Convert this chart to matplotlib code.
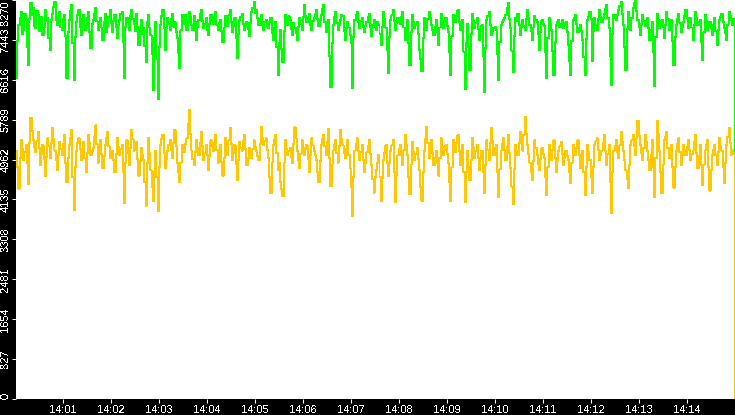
import matplotlib
matplotlib.use("Agg")
import matplotlib.pyplot as plt
import matplotlib.dates as mdates
import pandas as pd

plt.rcParams["font.family"] = ["Liberation Sans", "DejaVu Sans"]
plt.rcParams["text.antialiased"] = False

# one sample every 1.5 seconds from 14:00:01
start_time = "2024-01-01 14:00:01"
sample_step = "1500ms"

green_vals = [
    6650, 7420, 7750, 7900, 8020, 7560, 7650, 7980, 7850, 7300, 6920, 7880, 8210, 7960, 8100, 7740, 7690, 8040, 7960, 7620,
    7810, 7920, 7540, 7700, 8060, 7830, 7900, 7480, 7230, 7860, 7980, 8120, 8230, 7860, 7750, 7940, 8020, 7700, 7650, 7880,
    7960, 7520, 6650, 7600, 7850, 8040, 8170, 7380, 6610, 7500, 7810, 7960, 8060, 7720, 7540, 7880, 7960, 7640, 7750, 7890,
    8020, 7600, 7270, 7780, 7850, 7990, 8100, 7830, 7650, 7760, 7900, 7700, 7440, 7810, 7980, 7600, 7730, 7920, 8060, 7800,
    7600, 7840, 7960, 7700, 7480, 7760, 7850, 7990, 8020, 7400, 6650, 7720, 7900, 7810, 7650, 7930, 8060, 7880, 7770, 7620,
    7980, 7720, 7340, 7640, 7850, 7560, 7690, 7320, 6980, 7820, 7960, 7700, 7540, 7160, 6400, 7480, 7810, 7050, 6210, 7300,
    7750, 7930, 8060, 7680, 7230, 7690, 7900, 7780, 7650, 7870, 7980, 7720, 7810, 7600, 7480, 7180, 6860, 7640, 7960, 7780,
    7850, 7960, 7650, 7820, 8020, 7910, 7750, 7640, 7940, 7820, 7440, 7700, 7850, 7990, 8060, 7830, 7690, 7780, 7900, 7640,
    7540, 7770, 7960, 7850, 7770, 7910, 8020, 7760, 7650, 7800, 7850, 7620, 7400, 7700, 7940, 7830, 7730, 7950, 8060, 7820,
    7600, 7740, 7900, 7480, 7060, 7560, 7850, 7920, 7980, 7780, 7650, 7710, 7810, 7660, 7520, 7800, 8020, 8110, 8230, 8000,
    8060, 7900, 7750, 7880, 7960, 7760, 7650, 7820, 7850, 7740, 7690, 7820, 7900, 7580, 7440, 7700, 7810, 7300, 6710, 7380,
    7650, 7260, 6980, 7620, 7960, 7840, 7750, 7930, 7850, 7660, 7540, 7790, 7690, 7580, 7440, 7720, 7900, 7780, 7650, 7920,
    8170, 7940, 7810, 7900, 7980, 7760, 7650, 7830, 7900, 7990, 8060, 7870, 7730, 7850, 7960, 8080, 8170, 7820, 7600, 7760,
    7850, 7100, 6460, 7380, 7750, 7910, 8020, 7800, 7650, 7760, 7850, 7960, 7940, 7620, 7440, 7680, 7810, 7700, 7540, 7380,
    6440, 7500, 7850, 7960, 8020, 7820, 7690, 7840, 7900, 7710, 7600, 7740, 7810, 7920, 7980, 7700, 7520, 7760, 7850, 7700,
    7650, 7820, 7750, 7560, 7340, 7720, 8020, 7880, 7690, 7240, 6750, 7500, 7850, 7950, 8060, 7840, 7650, 7800, 7900, 7820,
    7770, 7910, 8020, 7700, 7440, 7680, 7850, 7380, 6920, 7600, 7960, 7820, 7690, 7760, 7810, 7560, 7230, 7040, 6790, 7480,
    7900, 7770, 7650, 7880, 8020, 7900, 7750, 7640, 7540, 7720, 7850, 7600, 7340, 7700, 7980, 7820, 7690, 7840, 7900, 7740,
    7600, 7200, 6710, 7520, 7960, 7880, 7810, 7940, 8060, 7820, 7650, 7760, 7850, 7200, 6420, 7380, 7770, 7300, 6820, 7560,
    7980, 7840, 7690, 7800, 7900, 7660, 7440, 7620, 7750, 7100, 6360, 7280, 7850, 7940, 8020, 7760, 7540, 7620, 7690, 7720,
    7650, 7160, 6610, 7400, 7750, 7820, 7850, 7900, 7960, 8100, 8210, 7880, 7690, 7220, 6770, 7520, 7900, 7840, 7980, 7760,
    7540, 7700, 7850, 7740, 7650, 7880, 8060, 7900, 7750, 7620, 7440, 7700, 7940, 7860, 7810, 7560, 7230, 7600, 7850, 7780,
    7730, 7200, 6650, 7480, 7900, 7780, 7650, 7220, 6710, 7400, 7750, 7820, 7850, 7700, 7770, 7860, 7690, 7760, 7810, 7600,
    7340, 7000, 6710, 7420, 7850, 7900, 7960, 7780, 7600, 7700, 7750, 7620, 7440, 7080, 6710, 7460, 7850, 7930, 8020, 7880,
    7000, 7620, 7900, 7760, 7650, 7880, 8060, 7920, 7810, 7900, 7980, 8080, 8170, 7900, 7690, 7100, 6500, 7560, 7960, 7900,
    7850, 7960, 8060, 8150, 8230, 7980, 7750, 7300, 6820, 7660, 8020, 7840, 7650, 7900, 8100, 8200, 8270, 8040, 7850, 7700,
    7540, 7780, 7960, 7840, 7730, 7820, 7900, 7680, 7440, 7640, 7810, 7200, 6480, 7500, 7980, 7860, 7690, 7760, 7850, 7700,
    7480, 7760, 8020, 7880, 7650, 7780, 7850, 7420, 6920, 7500, 7750, 7880, 7980, 7800, 7600, 7720, 7810, 7940, 8060, 7900,
    7690, 7820, 7900, 7700, 7440, 7760, 8020, 7900, 7750, 7820, 7850, 7400, 7020, 7600, 7960, 7840, 7650, 7720, 7810, 7680,
    7540, 7760, 7900, 7620, 7340, 7640, 7850, 7920, 7980, 7820, 7690, 7580, 7440, 7760, 8020, 7930, 7850, 7760, 7880, 2600,
]

yellow_vals = [
    5150, 4800, 4360, 5000, 5360, 5180, 4950, 5120, 5260, 4900, 4450, 5300, 5820, 5560, 5360, 5220, 5110, 5340, 5530, 5200,
    4840, 5080, 5260, 4980, 4630, 5020, 5400, 5240, 4990, 5300, 5610, 5380, 5150, 4960, 4740, 5060, 5320, 5180, 5050, 5280,
    5470, 4900, 4490, 5000, 5260, 5420, 5570, 4600, 3910, 4800, 5150, 5300, 5400, 5180, 4950, 5140, 5320, 5000, 4700, 5100,
    5470, 5300, 5050, 5140, 5200, 5440, 5670, 5280, 4900, 5100, 5360, 5080, 4780, 5040, 5260, 5400, 5530, 5240, 4990, 5120,
    5150, 4960, 4700, 5080, 5400, 5220, 5050, 5180, 5260, 4700, 4070, 4900, 5360, 5100, 4840, 5200, 5570, 5380, 5150, 5260,
    5320, 4980, 4630, 4940, 5200, 5060, 4950, 4500, 4010, 4900, 5400, 5100, 4740, 4400, 4110, 4700, 5150, 4600, 3890, 4800,
    5260, 5380, 5470, 5100, 4780, 4980, 5150, 5260, 5360, 5160, 4990, 5300, 5570, 5240, 4900, 4700, 4490, 4900, 5260, 5180,
    5110, 5280, 5400, 5700, 6000, 5500, 5150, 4980, 4840, 5120, 5360, 5200, 5050, 5300, 5530, 5240, 4950, 5100, 5260, 5060,
    4740, 5040, 5360, 5240, 5150, 5300, 5470, 5160, 4900, 5080, 5260, 4920, 4630, 5000, 5400, 5220, 5050, 5360, 5610, 5280,
    4950, 5100, 5260, 4880, 4530, 4960, 5320, 5200, 5150, 5340, 5470, 5180, 4840, 5000, 5200, 5080, 4990, 5180, 5360, 5220,
    5150, 5040, 4950, 5280, 5630, 5420, 5260, 5340, 5400, 5160, 4990, 4600, 4260, 4900, 5260, 5360, 5470, 5100, 4740, 4900,
    4490, 4350, 4200, 4900, 5360, 5180, 5050, 5140, 5200, 5020, 4900, 5280, 5630, 5400, 5150, 4960, 4780, 5080, 5360, 5200,
    5050, 5180, 5260, 4980, 4700, 5060, 5400, 5260, 5150, 5060, 4950, 4700, 4490, 4940, 5260, 5380, 5470, 5240, 5050, 5320,
    5590, 5000, 4410, 4860, 5150, 5260, 5360, 5100, 4900, 5240, 5570, 5380, 5260, 5100, 4990, 5180, 5360, 5060, 4780, 4400,
    3800, 4600, 5150, 5280, 5400, 5140, 4950, 5120, 5260, 4960, 4700, 4900, 5110, 5240, 5360, 5080, 4840, 4560, 4280, 4600,
    4740, 4900, 5050, 4600, 4110, 4580, 4950, 5100, 5260, 4900, 4630, 4900, 5150, 5260, 5360, 4700, 4090, 4640, 5050, 5180,
    5260, 5060, 4840, 5160, 5470, 5260, 5050, 4600, 4240, 4860, 5320, 5120, 4950, 5080, 5200, 4980, 4740, 4400, 4110, 4700,
    5150, 5400, 5630, 5300, 4990, 5180, 5360, 5100, 4840, 5000, 5150, 4900, 4630, 5000, 5400, 5220, 5050, 5160, 5260, 5080,
    4900, 4500, 4110, 4800, 5360, 5220, 5110, 5300, 5470, 5140, 4840, 5060, 5260, 4700, 4090, 4700, 5150, 4800, 4530, 4960,
    5400, 5200, 4990, 5140, 5260, 5000, 4740, 4980, 5150, 4700, 4260, 4860, 5360, 5160, 4950, 5300, 5610, 5340, 5050, 5200,
    5260, 4700, 4180, 4760, 5150, 5280, 5400, 5160, 4950, 5220, 5470, 5100, 4780, 4400, 4050, 4760, 5260, 5140, 5050, 5300,
    5530, 5320, 5150, 5480, 5840, 5500, 5260, 5080, 4900, 4700, 4530, 4940, 5360, 5200, 5050, 4880, 4740, 4980, 5200, 5080,
    4990, 4600, 4220, 4800, 5260, 5100, 4950, 5160, 5360, 5000, 4700, 4940, 5150, 5240, 5320, 5080, 4840, 5000, 5150, 5040,
    4950, 4700, 4470, 4900, 5260, 5140, 5050, 5200, 5360, 5060, 4780, 4960, 5150, 4700, 4220, 4800, 5260, 5120, 4950, 4600,
    4260, 4800, 5260, 5340, 5400, 5160, 4950, 5060, 5150, 5300, 5470, 5140, 4840, 5080, 5260, 4500, 3860, 4700, 5150, 5240,
    5360, 5120, 4990, 5260, 5530, 5320, 5150, 4960, 4740, 4560, 4380, 4860, 5260, 5360, 5470, 5240, 5050, 5400, 5760, 5460,
    5260, 5100, 4950, 5200, 5470, 5320, 5150, 4960, 4740, 5060, 5360, 4800, 4180, 5000, 5760, 5500, 5150, 4700, 4260, 4860,
    5360, 5440, 5530, 5200, 4990, 5120, 5260, 4800, 4380, 4800, 5150, 5280, 5400, 5120, 4840, 5060, 5260, 5160, 5050, 5220,
    5360, 5160, 4950, 5080, 5150, 5320, 5470, 5100, 4780, 5040, 5260, 4860, 4430, 4860, 5150, 5260, 5360, 4800, 4320, 4740,
    5050, 5160, 5260, 5060, 4840, 5120, 5400, 5240, 5150, 4800, 4470, 4900, 5260, 5440, 5610, 5300, 5050, 5160, 5080, 0,
]

y_ticks = [0, 827, 1654, 2481, 3308, 4135, 4962, 5789, 6616, 7443, 8270]
x_ticks = pd.date_range("2024-01-01 14:01", "2024-01-01 14:14", freq="1min")

green_times = pd.date_range(start_time, periods=len(green_vals), freq=sample_step)
yellow_times = pd.date_range(start_time, periods=len(yellow_vals), freq=sample_step)

fig = plt.figure(figsize=(7.35, 4.15), dpi=100, facecolor="black")
ax = fig.add_axes([16 / 735, 16 / 415, 719 / 735, 399 / 415])
ax.set_facecolor("white")

ax.plot(green_times, green_vals, color="#00ff00", lw=0.72, drawstyle="steps-post", antialiased=False)
ax.plot(yellow_times, yellow_vals, color="#ffc800", lw=0.72, drawstyle="steps-post", antialiased=False)

ax.set_xlim(pd.Timestamp("2024-01-01 14:00:01"), pd.Timestamp("2024-01-01 14:15:00"))
ax.set_ylim(0, 8270)

for s in ax.spines.values():
    s.set_visible(False)

ax.set_xticks(x_ticks)
ax.xaxis.set_major_formatter(mdates.DateFormatter("%H:%M"))
ax.set_yticks(y_ticks)
ax.set_yticklabels([str(t) for t in y_ticks], rotation=90, va="center")
ax.tick_params(colors="white", length=3, width=0.75, pad=1, labelsize=8)

# keep the end labels inside the plot height
ylabels = ax.get_yticklabels()
ylabels[0].set_va("bottom")
ylabels[-1].set_va("top")

fig.savefig("out.png", dpi=100, facecolor="black")
